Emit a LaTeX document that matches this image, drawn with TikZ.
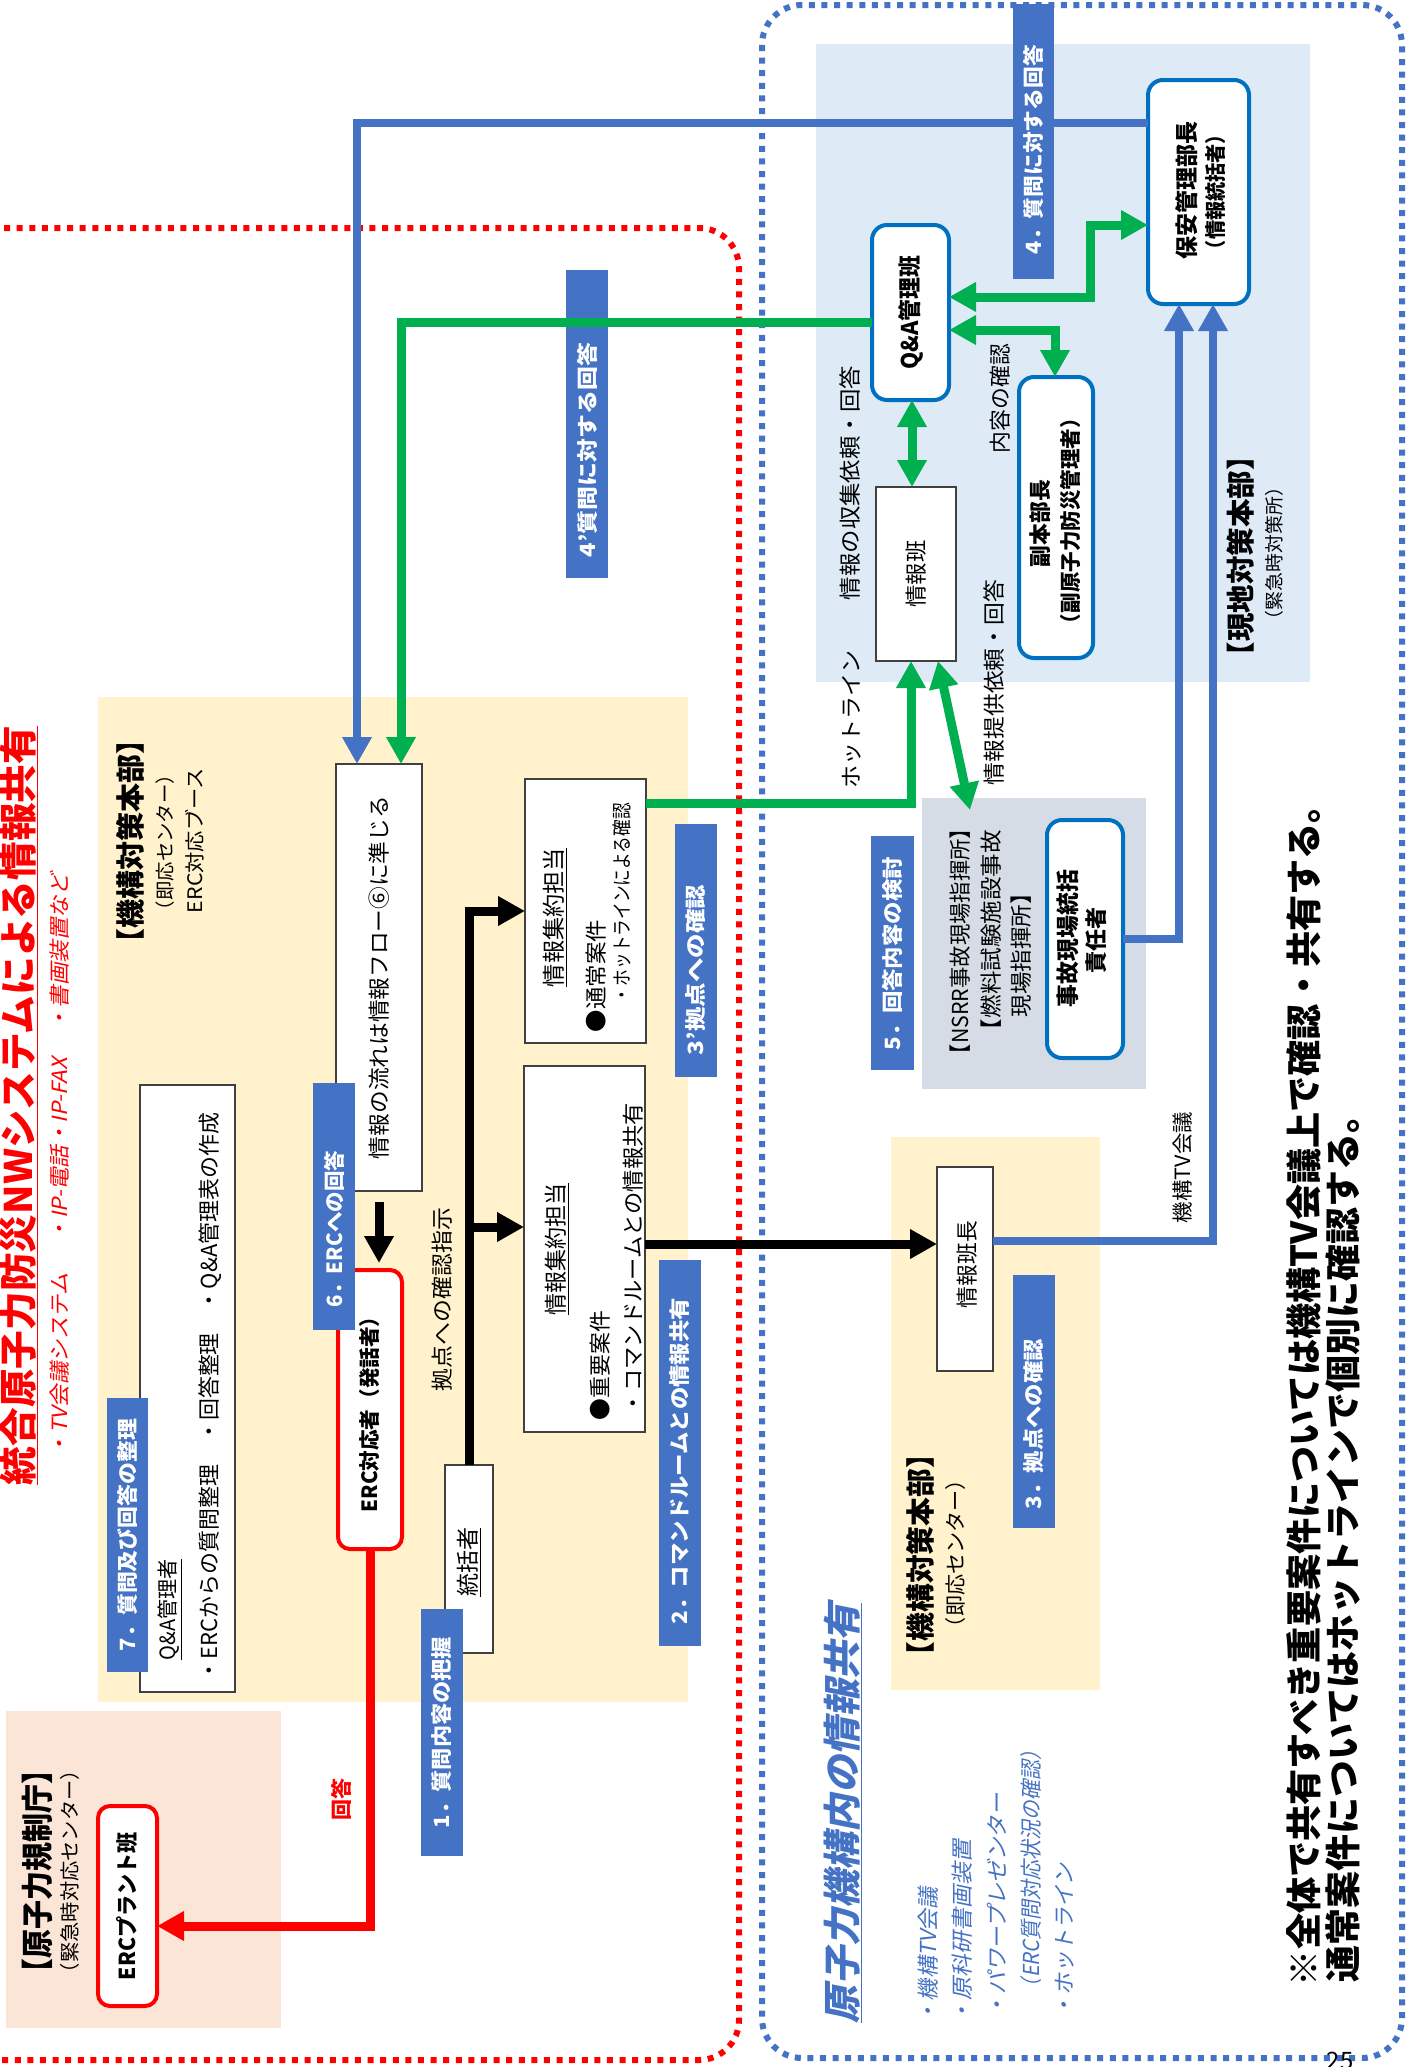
\documentclass[tikz,border=0pt]{standalone}
\usepackage{fontspec}
\setmainfont{Noto Sans CJK JP}
\newfontfamily\slfont{Noto Sans CJK JP}[FakeSlant=0.2]
\usetikzlibrary{arrows.meta,fit,calc}
\definecolor{yel}{HTML}{FFF2CC}
\definecolor{pnk}{HTML}{FBE5D6}
\definecolor{lbl}{HTML}{DEEBF7}
\definecolor{gry}{HTML}{D6DCE5}
\definecolor{lab}{HTML}{4472C4}
\definecolor{grn}{HTML}{00B050}
\definecolor{bdr}{HTML}{0070C0}
\newcommand{\fsz}[1]{\fontsize{#1pt}{#1pt}\selectfont}
\newcommand{\rt}[2]{\rotatebox{90}{\resizebox{#1pt}{\height}{#2}}}
\tikzset{
 tx/.style={inner sep=0pt, outer sep=0pt},
 ltx/.style={inner sep=0pt, outer sep=0pt, text=white, font=\bfseries\fsz{21}},
 area/.style={inner sep=0pt, outer sep=0pt, draw=none},
 wbox/.style={inner sep=0pt, outer sep=0pt, draw=black!75, line width=1.3pt, fill=white},
 rbox/.style={inner sep=0pt, outer sep=0pt, draw=red, line width=4pt, rounded corners=12pt, fill=white},
 bbox/.style={inner sep=0pt, outer sep=0pt, draw=bdr, line width=4pt, rounded corners=15pt, fill=white},
 lbox/.style={inner sep=0pt, outer sep=0pt, fill=lab},
 thk/.style={line width=9pt},
 thb/.style={line width=8.5pt, draw=lab},
 arr/.style={-{Triangle[length=27pt,width=28pt]}},
 darr/.style={{Triangle[length=27pt,width=28pt]}-{Triangle[length=27pt,width=28pt]}},
}
\begin{document}
\begin{tikzpicture}[x=1pt,y=-1pt]
\useasboundingbox (0,0) rectangle (1407,2067);
\fill[white] (0,0) rectangle (1407,2067);

% regions
\node[area, fill=yel, fit={(98,697) (688,1702)}] (yel1) {};
\node[area, fill=pnk, fit={(6,1711) (281,2028)}] (pink) {};
\node[area, fill=lbl, fit={(816,44) (1310,682)}] (genchi) {};
\node[area, fill=gry, fit={(922,798) (1146,1089)}] (nsrr) {};
\node[area, fill=yel, fit={(891,1137) (1100,1690)}] (yel2) {};

% dotted frames
\draw[red, line width=6pt, dash pattern=on 6pt off 6.6pt, rounded corners=40pt] (-50,228) rectangle (739,2060);
\draw[lab, line width=6pt, dash pattern=on 6pt off 6.6pt, rounded corners=40pt] (762,5) rectangle (1402,2058);

% titles
\node[tx, text=red, font=\bfseries\fsz{38}] (title) at (19,1105.5) {\rt{759}{\underline{統合原子力防災NWシステムによる情報共有}}};
\node[tx, text=red, font=\slfont\fsz{21}] (sub) at (60,1164.5) {\rt{583}{・TV会議システム\hspace{1.4em}・IP-電話・IP-FAX\hspace{1.2em}・書画装置など}};

% NRA
\node[tx, font=\bfseries\fsz{32}] (nra) at (37,1871) {\rt{232}{【原子力規制庁】}};
\node[tx, font=\fsz{20}] (nra2) at (70,1871.5) {\rt{223}{（緊急時対応センター）}};
\node[rbox, fit={(98,1806) (157,2006)}] (ercp) {};
\node[tx, font=\bfseries\fsz{22}] at (ercp.center) {\rt{148}{ERCプラント班}};
\node[tx, text=red, font=\bfseries\fsz{21}] (kaito) at (341,1799) {\rt{42}{回答}};

% yellow 1
\node[tx, font=\bfseries\fsz{29}] (kk1) at (130,841) {\rt{232}{【機構対策本部】}};
\node[tx, font=\fsz{19.5}] (kk1b) at (165,842.5) {\rt{155}{（即応センター）}};
\node[tx, font=\fsz{20}] (kk1c) at (195,840.5) {\rt{145}{ERC対応ブース}};

\node[wbox, fit={(140,1085) (235,1692)}] (qabox) {};
\node[tx, font=\fsz{21}] (qam) at (170,1609.5) {\rt{101}{\underline{Q\&A管理者}}};
\node[tx, font=\fsz{22}] (qal) at (210,1397) {\rt{568}{・ERCからの質問整理\quad・回答整理\quad・Q\&A管理表の作成}};
\node[lbox, fit={(107,1398) (148,1672)}] (l7) {};
\node[ltx] at (l7.center) {\rt{232}{7．質問及び回答の整理}};

\node[wbox, fit={(336,764) (422,1191)}] (flow) {};
\node[tx, font=\fsz{22}] at (flow.center) {\rt{363}{情報の流れは情報フロー⑥に準じる}};

\node[rbox, fit={(338,1270) (402,1549)}] (erc) {};
\node[tx, font=\bfseries\fsz{21}] at (erc.center) {\rt{206}{ERC対応者（発話者）}};

\node[lbox, fit={(313,1083) (355,1330)}] (l6) {};
\node[ltx] at (334,1229) {\rt{156}{6．ERCへの回答}};

\node[wbox, fit={(445,1465) (493,1653)}] (tok) {};
\node[tx, font=\fsz{23}] at (469,1562) {\rt{69}{\underline{統括者}}};
\node[lbox, fit={(421,1609) (463,1856)}] (l1) {};
\node[ltx] at (l1.center) {\rt{191}{1．質問内容の把握}};
\node[tx, font=\fsz{22}] (kyoten) at (442,1299.5) {\rt{183}{拠点への確認指示}};

\node[wbox, fit={(525,779) (646,1043)}] (tsujo) {};
\node[tx, font=\fsz{23}] (ts1) at (555,917.5) {\rt{139}{\underline{情報集約担当}}};
\node[tx, font=\fsz{22}] (ts2) at (596,976) {\rt{112}{●通常案件}};
\node[tx, font=\fsz{20}] (ts3) at (622,903) {\rt{200}{・ホットラインによる確認}};

\node[wbox, fit={(524,1066) (645,1432)}] (juyo) {};
\node[tx, font=\fsz{23}] (ju1) at (557,1249) {\rt{132}{\underline{情報集約担当}}};
\node[tx, font=\fsz{22}] (ju2) at (600,1365.5) {\rt{109}{●重要案件}};
\node[tx, font=\fsz{22}] (ju3) at (633,1258.5) {\rt{311}{・コマンドルームとの情報共有}};

\node[lbox, fit={(675,824) (717,1077)}] (l3p) {};
\node[ltx] at (696,970) {\rt{170}{3’拠点への確認}};
\node[lbox, fit={(659,1260) (701,1646)}] (l2) {};
\node[ltx] at (680,1461) {\rt{326}{2．コマンドルームとの情報共有}};

% genchi
\node[tx, font=\bfseries\fsz{28.5}] (gc1) at (1241,556) {\rt{228}{【現地対策本部】}};
\node[tx, font=\fsz{19}] (gc2) at (1274,553.5) {\rt{151}{（緊急時対策所）}};
\node[bbox, fit={(872,225) (949,400)}] (qa) {};
\node[tx, font=\bfseries\fsz{23}] at (qa.center) {\rt{114}{Q\&A管理班}};
\node[bbox, fit={(1148,80) (1249,304)}] (hoan) {};
\node[tx, font=\bfseries\fsz{23}] (ho1) at (1187,190) {\rt{138}{保安管理部長}};
\node[tx, font=\bfseries\fsz{21}] (ho2) at (1216,192) {\rt{134}{（情報統括者）}};
\node[bbox, fit={(1019,377) (1093,658)}] (fuku) {};
\node[tx, font=\bfseries\fsz{22}] (fu1) at (1040,523.5) {\rt{87}{副本部長}};
\node[tx, font=\bfseries\fsz{21}] (fu2) at (1070,521) {\rt{226}{（副原子力防災管理者）}};
\node[wbox, fit={(876,487) (956,661)}] (johan) {};
\node[tx, font=\fsz{22}] at (johan.center) {\rt{67}{情報班}};
\node[tx, font=\fsz{22}] (t1) at (850,483) {\rt{234}{情報の収集依頼・回答}};
\node[tx, font=\fsz{22}] (t2) at (1000,398.5) {\rt{109}{内容の確認}};
\node[tx, font=\fsz{22}] (t3) at (852,719) {\rt{138}{ホットライン}};
\node[tx, font=\fsz{22}] (t4) at (994,682.5) {\rt{205}{情報提供依頼・回答}};

% NSRR
\node[tx, font=\fsz{22}] (ns1) at (960,941.5) {\rt{247}{【NSRR事故現場指揮所】}};
\node[tx, font=\fsz{22}] (ns2) at (991,936) {\rt{212}{【燃料試験施設事故}};
\node[tx, font=\fsz{22}] (ns3) at (1021,949.5) {\rt{135}{現場指揮所】}};
\node[bbox, fit={(1047,820) (1123,1058)}] (jiko) {};
\node[tx, font=\bfseries\fsz{23}] (ji1) at (1068,938.5) {\rt{137}{事故現場統括}};
\node[tx, font=\bfseries\fsz{22}] (ji2) at (1096,940) {\rt{66}{責任者}};
\node[lbox, fit={(871,836) (914,1070)}] (l5) {};
\node[ltx] at (892.5,953.5) {\rt{193}{5．回答内容の検討}};

% yellow 2
\node[wbox, fit={(937,1167) (993,1371)}] (hancho) {};
\node[tx, font=\fsz{22}] at (967,1264.5) {\rt{87}{情報班長}};
\node[tx, font=\bfseries\fsz{29}] (kk2) at (920,1555) {\rt{230}{【機構対策本部】}};
\node[tx, font=\fsz{21}] (kk2b) at (956,1553.5) {\rt{169}{（即応センター）}};
\node[lbox, fit={(1013,1275) (1055,1528)}] (l3) {};
\node[ltx] at (1034,1424) {\rt{170}{3．拠点への確認}};
\node[tx, font=\fsz{21}] (tvk) at (1183,1167.5) {\rt{111}{機構TV会議}};

% 4' label
\node[lbox, fit={(566,270) (608,578)}] (l4p) {};
\node[ltx] at (587,450) {\rt{214}{4’質問に対する回答}};

% blue section
\node[tx, text=lab, font=\slfont\bfseries\fsz{38}] (bt) at (843,1813) {\rt{420}{\underline{原子力機構内の情報共有}}};
\node[tx, text=lab, font=\slfont\fsz{22}] (b1) at (928,1955) {\rt{136}{・機構TV会議}};
\node[tx, text=lab, font=\slfont\fsz{22}] (b2) at (962,1931.5) {\rt{183}{・原科研書画装置}};
\node[tx, text=lab, font=\slfont\fsz{22}] (b3) at (997,1905) {\rt{224}{・パワープレゼンター}};
\node[tx, text=lab, font=\slfont\fsz{22}] (b4) at (1031,1869) {\rt{258}{（ERC質問対応状況の確認）}};
\node[tx, text=lab, font=\slfont\fsz{22}] (b5) at (1065,1940) {\rt{154}{・ホットライン}};

% notes
\node[tx, font=\bfseries\fsz{36}] (n1) at (1304,1386.5) {\rt{1199}{※全体で共有すべき重要案件については機構TV会議上で確認・共有する。}};
\node[tx, font=\bfseries\fsz{36}] (n2) at (1343,1539.5) {\rt{885}{通常案件についてはホットラインで個別に確認する。}};
\node[tx, font=\fsz{24}, anchor=north] (pg) at (1340,2052) {25};

% connectors
\draw[thk, black, arr] (tok.north) |- (tsujo.west);
\coordinate (br) at (tok.north |- 0,1227);
\draw[thk, black, arr] (br) -- (br -| juyo.west);
\draw[thk, black, arr] (juyo.east |- 0,1244) -- (hancho.west |- 0,1244);
\draw[thk, black, arr, shorten <=11pt, shorten >=7pt] (flow.south) -- (flow.south |- erc.north);
\draw[thk, red, arr] (erc.south) -- (erc.south |- 0,1926) -- (ercp.east |- 0,1926);

\draw[thb, arr] (hoan.west |- 0,123) -| (flow.north -| 357,0);
\draw[thk, grn, arr] (qa.west |- 0,322) -| (flow.north -| 401,0);
\draw[thk, grn, darr] (qa.east |- 0,297) -| (1090,225) -- (hoan.west |- 0,225);
\draw[thk, grn, darr] (qa.east |- 0,330) -| (fuku.north -| 1055,0);
\draw[thk, grn, darr] (qa.south -| 912,0) -- (johan.north -| 912,0);
\draw[thk, grn, arr] (tsujo.east |- 0,803) -| (johan.south -| 911,0);
\draw[thk, grn, darr] (johan.south -| 938,0) -- ($(nsrr.north -| 970,0)+(0,12)$);
\draw[thb, arr] (jiko.east) -| (hoan.south -| 1179,0);
\draw[thb, arr] (hancho.east |- 0,1241) -| (hoan.south -| 1213,0);

% label 4 (drawn over blue line)
\node[lbox, fit={(1013,4) (1054,279)}] (l4) {};
\node[ltx] at (1033.5,149.5) {\rt{209}{4．質問に対する回答}};
\end{tikzpicture}
\end{document}
